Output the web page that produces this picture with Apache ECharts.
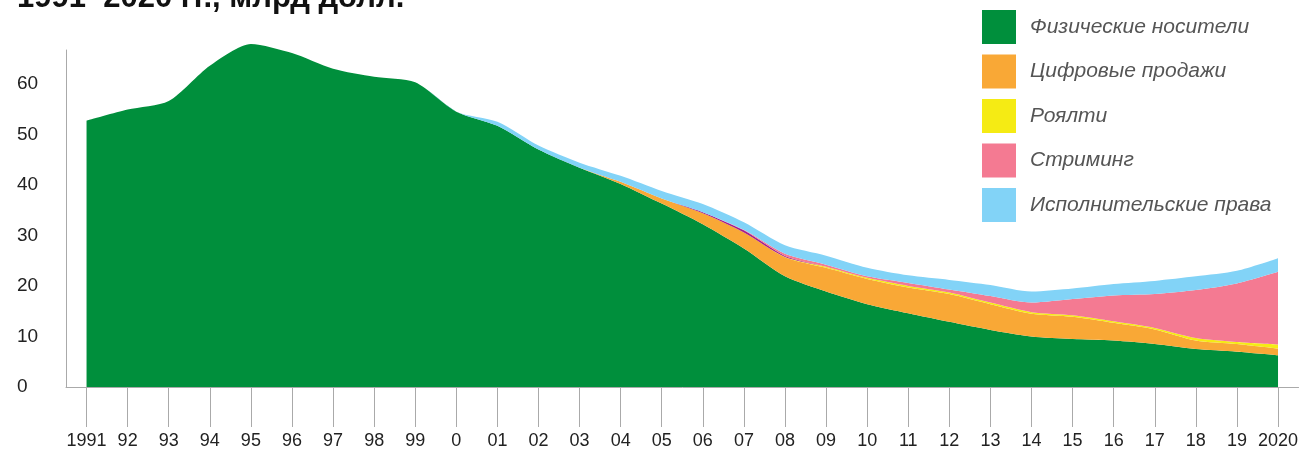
<!DOCTYPE html>
<html><head><meta charset="utf-8">
<script src="https://cdn.jsdelivr.net/npm/echarts@6/dist/echarts.min.js"></script>
<style>html,body{margin:0;padding:0;background:#fff}#c{width:1301px;height:450px}</style>
</head><body><div id="c"></div>
<script>
const years = ['1991','92','93','94','95','96','97','98','99','0','01','02','03','04','05','06','07','08','09','10','11','12','13','14','15','16','17','18','19','2020'];
const physical = [52.7,54.9,56.6,63.6,67.9,66.1,63.0,61.4,60.3,54.5,51.7,47.0,43.4,40.2,36.3,32.2,27.4,21.9,18.9,16.4,14.6,12.9,11.3,10.0,9.5,9.2,8.5,7.5,7.0,6.3];
const digital  = [0,0,0,0,0,0,0,0,0,0,0,0,0,0.4,1.0,2.2,3.2,3.8,4.7,5.0,5.1,5.5,5.1,4.5,4.4,3.5,2.9,1.7,1.5,1.3];
const royalty  = [0,0,0,0,0,0,0,0,0,0,0,0,0,0,0,0,0,0.05,0.2,0.2,0.3,0.3,0.3,0.3,0.3,0.3,0.3,0.5,0.4,0.8];
const mobile   = [0,0,0,0,0,0,0,0,0,0,0,0,0,0,0,0.2,0.4,0.2,0,0,0,0,0,0,0,0,0,0,0,0];
const streaming= [0,0,0,0,0,0,0,0,0,0,0,0,0,0,0,0,0.1,0.4,0.4,0.3,0.6,0.6,1.3,1.9,3.2,5.1,6.7,9.5,11.6,14.4];
const perf     = [0,0,0,0,0,0,0,0,0,0,0.8,0.8,1.0,1.2,1.5,1.6,1.5,1.7,1.8,1.7,1.5,1.9,2.2,2.2,2.1,2.3,2.6,2.7,2.5,2.7];
const names = ['Физические носители','Цифровые продажи','Роялти','Стриминг','Исполнительские права'];
const colors = ['#008F3C','#F9A836','#F5EB14','#F47A92','#82D3F7'];
const titleText = '1991–2020 гг., млрд долл.';

function mk(name, data, color){
  return {name, type:'line', stack:'total', data, smooth:0.25, showSymbol:false, symbol:'none', clip:false,
    lineStyle:{width:0}, areaStyle:{color, opacity:1}, itemStyle:{color}, emphasis:{disabled:true}};
}
const chart = echarts.init(document.getElementById('c'), null, {renderer:'canvas'});
chart.setOption({
  animation:false,
  title:{text:titleText, left:12, top:-22, textStyle:{fontFamily:'Liberation Sans, Arial', fontSize:31, fontWeight:'bold', color:'#111'}},
  legend:{data:names, orient:'vertical', left:977, top:5, itemWidth:34, itemHeight:34, itemGap:10.5, icon:'rect',
    textStyle:{fontFamily:'Liberation Sans, Arial', fontSize:21, fontStyle:'italic', color:'#555', padding:[0,0,0,9]}},
  grid:{left:66, right:0, top:50, bottom:63, containLabel:false},
  xAxis:{type:'category', data:years, boundaryGap:true,
    axisLine:{lineStyle:{color:'#aaa', width:1}},
    axisTick:{show:true, alignWithLabel:true, length:40, lineStyle:{color:'#aaa', width:1}},
    axisLabel:{margin:45, fontFamily:'Liberation Sans, Arial', fontSize:18, color:'#222', interval:0}},
  yAxis:{type:'value', min:0, max:66.7, interval:10,
    axisLine:{show:true, lineStyle:{color:'#aaa', width:1}}, axisTick:{show:false}, splitLine:{show:false},
    axisLabel:{align:'left', margin:49, fontFamily:'Liberation Sans, Arial', fontSize:19, color:'#222',
      formatter:v => (Math.abs(v % 10) < 1e-6 ? String(v) : '')}},
  series:[mk(names[0],physical,colors[0]), mk(names[1],digital,colors[1]), mk(names[2],royalty,colors[2]),
    mk('Мобильные', mobile, '#A3218E'), mk(names[3],streaming,colors[3]), mk(names[4],perf,colors[4])]
});
</script></body></html>
